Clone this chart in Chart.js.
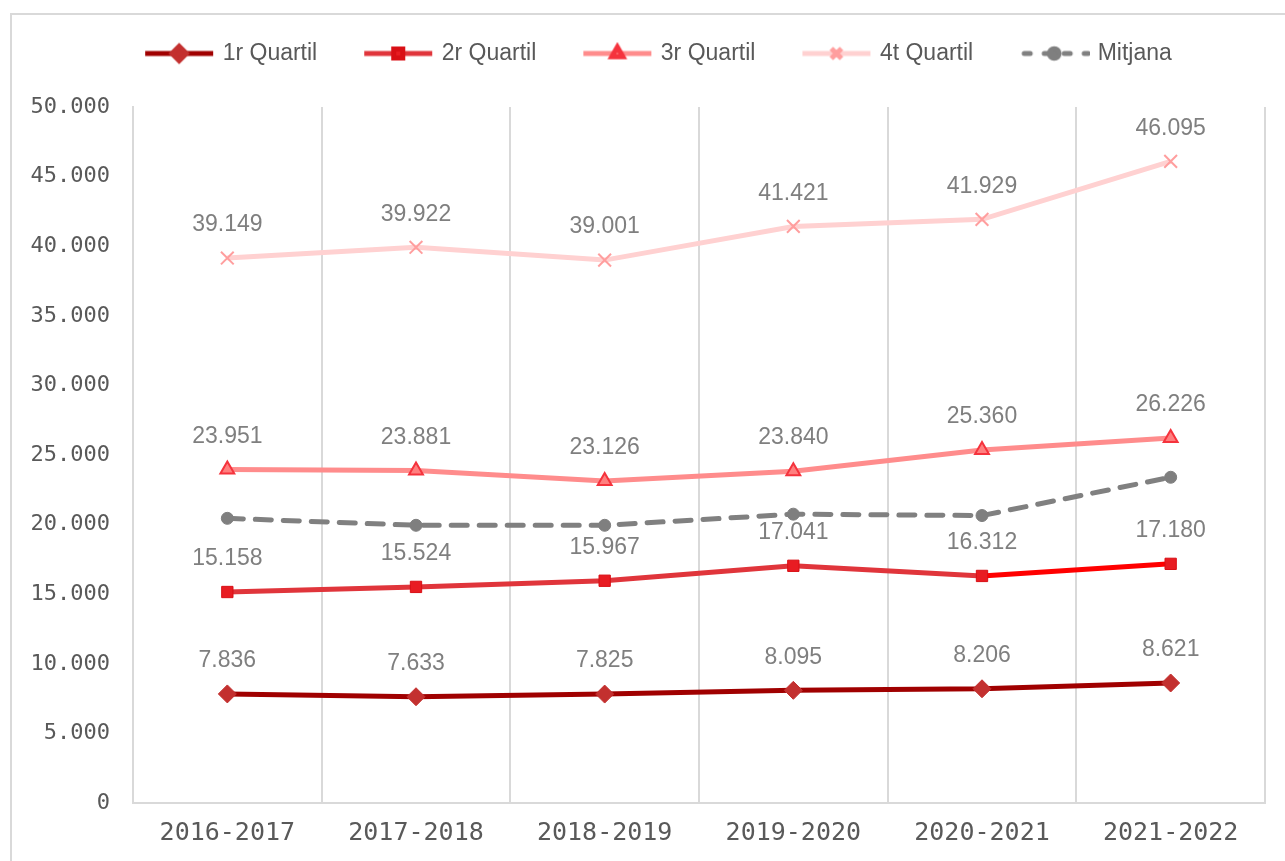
<!DOCTYPE html>
<html>
<head>
<meta charset="utf-8">
<script src="https://cdn.jsdelivr.net/npm/chart.js@4/dist/chart.umd.min.js"></script>
<style>
  html, body { margin: 0; padding: 0; background: #ffffff; }
  #wrap { position: relative; width: 1285px; height: 861px; }
</style>
</head>
<body>
<div id="wrap"><canvas id="quartilsChart" width="1285" height="861"></canvas></div>
<script>
// Data
const cursos = ['2016-2017', '2017-2018', '2018-2019', '2019-2020', '2020-2021', '2021-2022'];
const quartil1 = [7836, 7633, 7825, 8095, 8206, 8621];
const quartil2 = [15158, 15524, 15967, 17041, 16312, 17180];
const quartil3 = [23951, 23881, 23126, 23840, 25360, 26226];
const quartil4 = [39149, 39922, 39001, 41421, 41929, 46095];
const mitjana = [20450, 19950, 19950, 20750, 20650, 23400];
const yTicks = [0, 5000, 10000, 15000, 20000, 25000, 30000, 35000, 40000, 45000, 50000];

const GRID = '#d9d9d9';
const TEXT = '#595959';
const LABEL = '#7f7f7f';

// 12345 -> "12.345"
function fmt(v) {
    return String(v).replace(/\B(?=(\d{3})+(?!\d))/g, '.');
}

// small canvas with the line + marker, used as the legend symbol
function legendIcon(ds) {
    const c = document.createElement('canvas');
    c.width = 72;
    c.height = 24;
    const ctx = c.getContext('2d');
    ctx.lineWidth = ds.borderWidth;
    ctx.lineCap = ds.borderDash ? 'round' : 'butt';
    ctx.strokeStyle = ds.borderColor;
    if (ds.borderDash) ctx.setLineDash([6, 14]);
    ctx.beginPath();
    ctx.moveTo(ds.borderDash ? 6 : 2, 12);
    ctx.lineTo(70, 12);
    ctx.stroke();
    ctx.setLineDash([]);
    ctx.fillStyle = ds.pointBackgroundColor;
    ctx.strokeStyle = ds.pointBorderColor;
    Chart.helpers.drawPoint(ctx, {
        pointStyle: ds.pointStyle,
        radius: ds.pointRadius * 0.8,
        borderWidth: ds.pointBorderWidth
    }, 36, 12);
    return c;
}

// value labels above the points of the quartile series
const valueLabels = {
    id: 'valueLabels',
    afterDatasetsDraw(chart) {
        const ctx = chart.ctx;
        ctx.save();
        ctx.font = "23px 'Liberation Sans', Arial, sans-serif";
        ctx.fillStyle = LABEL;
        ctx.textAlign = 'center';
        ctx.textBaseline = 'middle';
        chart.data.datasets.forEach((ds, i) => {
            if (!ds.showValues) return;
            chart.getDatasetMeta(i).data.forEach((pt, j) => {
                ctx.fillText(fmt(ds.data[j]), pt.x, pt.y - 33);
            });
        });
        ctx.restore();
    }
};

// light frame round the whole chart
const chartFrame = {
    id: 'chartFrame',
    beforeDraw(chart) {
        const ctx = chart.ctx;
        ctx.save();
        ctx.strokeStyle = GRID;
        ctx.lineWidth = 2;
        ctx.strokeRect(11, 14, chart.width + 20, chart.height + 20);
        ctx.restore();
    }
};

// the legend row sits a bit right of the canvas centre in the original
const legendShift = {
    id: 'legendShift',
    afterUpdate(chart) {
        if (chart.legend) chart.legend.left += 44;
    }
};

const datasets = [
    {
        label: '1r Quartil',
        data: quartil1,
        borderColor: '#a00000',
        borderWidth: 5,
        pointStyle: 'rectRot',
        pointRadius: 9,
        pointBackgroundColor: '#c3302f',
        pointBorderColor: '#c3302f',
        pointBorderWidth: 1,
        showValues: true
    },
    {
        label: '2r Quartil',
        data: quartil2,
        borderColor: '#e0353b',
        borderWidth: 5,
        segment: {
            borderColor: c => c.p1DataIndex === cursos.length - 1 ? '#ff0000' : undefined
        },
        pointStyle: 'rect',
        pointRadius: 8,
        pointBackgroundColor: '#e81c22',
        pointBorderColor: '#d90f15',
        pointBorderWidth: 1,
        showValues: true
    },
    {
        label: '3r Quartil',
        data: quartil3,
        borderColor: '#ff8c8c',
        borderWidth: 5,
        pointStyle: 'triangle',
        pointRadius: 8,
        pointBackgroundColor: '#ff7f7f',
        pointBorderColor: '#f5333d',
        pointBorderWidth: 2,
        showValues: true
    },
    {
        label: '4t Quartil',
        data: quartil4,
        borderColor: '#ffd1d1',
        borderWidth: 5,
        pointStyle: 'crossRot',
        pointRadius: 9,
        pointBackgroundColor: '#ff9e9e',
        pointBorderColor: '#ff9e9e',
        pointBorderWidth: 2,
        showValues: true
    },
    {
        label: 'Mitjana',
        data: mitjana,
        borderColor: '#808080',
        borderWidth: 5,
        borderDash: [16, 12],
        borderCapStyle: 'round',
        pointStyle: 'circle',
        pointRadius: 6,
        pointBackgroundColor: '#7f7f7f',
        pointBorderColor: '#7f7f7f',
        pointBorderWidth: 1,
        showValues: false
    }
];

new Chart(document.getElementById('quartilsChart'), {
    type: 'line',
    data: { labels: cursos, datasets: datasets },
    plugins: [chartFrame, valueLabels, legendShift],
    options: {
        responsive: false,
        animation: false,
        layout: { padding: { top: -7, left: 10, right: 20, bottom: 8 } },
        elements: { line: { tension: 0 } },
        plugins: {
            title: {
                display: true,
                text: '',
                weight: 500,
                font: { size: 10 },
                padding: { top: 0, bottom: 20 }
            },
            legend: {
                position: 'top',
                labels: {
                    usePointStyle: true,
                    pointStyleWidth: 64,
                    padding: 49,
                    color: TEXT,
                    font: { size: 23, family: "'Liberation Sans', Arial, sans-serif" },
                    generateLabels: chart => chart.data.datasets.map((ds, i) => ({
                        text: ds.label,
                        pointStyle: legendIcon(ds),
                        fillStyle: 'transparent',
                        strokeStyle: 'transparent',
                        lineWidth: 0,
                        fontColor: TEXT,
                        hidden: !chart.isDatasetVisible(i),
                        datasetIndex: i
                    }))
                }
            },
            tooltip: { enabled: false }
        },
        scales: {
            x: {
                offset: true,
                afterFit: s => { s.height = 50; },
                grid: { color: GRID, lineWidth: 2, offset: true, drawTicks: false },
                border: { color: GRID, width: 2 },
                ticks: {
                    color: TEXT,
                    padding: 15,
                    font: { size: 25, family: "'DejaVu Sans Mono', monospace" }
                }
            },
            y: {
                min: 0,
                max: 50000,
                afterFit: s => { s.width = 123; },
                afterBuildTicks: s => { s.ticks = yTicks.map(v => ({ value: v })); },
                grid: { display: false, drawTicks: false },
                border: { color: GRID, width: 2 },
                ticks: {
                    color: TEXT,
                    padding: 23,
                    font: { size: 22, family: "'DejaVu Sans Mono', monospace" },
                    callback: v => fmt(v)
                }
            }
        }
    }
});
</script>
</body>
</html>
